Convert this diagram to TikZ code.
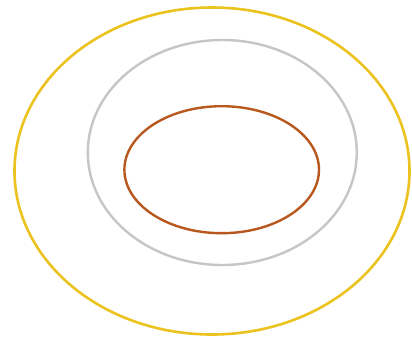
\documentclass[tikz,border=0pt]{standalone}
\definecolor{ringyellow}{HTML}{EBC21E}
\definecolor{ringgray}{HTML}{C6C6C6}
\definecolor{ringbrown}{HTML}{B9581E}
\begin{document}
\begin{tikzpicture}[x=1pt,y=-1pt,
  ring/.style={line width=2.6pt},
  outerring/.style={ring,draw=ringyellow},
  middlering/.style={ring,draw=ringgray,line width=2.4pt},
  innerring/.style={ring,draw=ringbrown,line width=2.4pt}]
\useasboundingbox[fill=white] (0,0) rectangle (412,343);
\draw[outerring] (212,171) ellipse [x radius=197.5, y radius=163.5];
\draw[middlering] (222.3,152.5) ellipse [x radius=134.5, y radius=112.5];
\draw[innerring] (221.7,169.7) ellipse [x radius=97.3, y radius=63.5];
\end{tikzpicture}
\end{document}
